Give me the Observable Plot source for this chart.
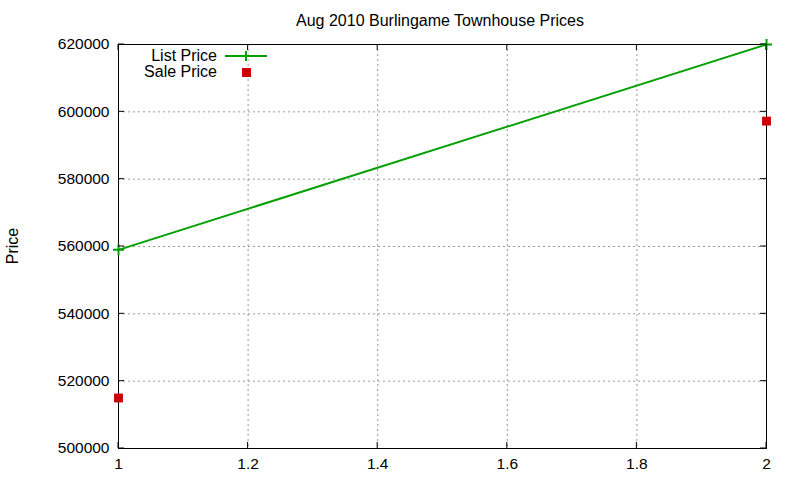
<!DOCTYPE html>
<html><head><meta charset="utf-8">
<script src="https://cdn.jsdelivr.net/npm/d3@7"></script>
<script src="https://cdn.jsdelivr.net/npm/@observablehq/plot@0.6"></script>
<style>body{margin:0;background:#fff;font-family:"Liberation Sans",Arial,sans-serif}</style>
</head><body><div id="chart"></div>
<script>
const title = "Aug 2010 Burlingame Townhouse Prices";
const yLabel = "Price";
const listX = [1, 2];
const listPrice = [559000, 620000];
const saleX = [1, 2];
const salePrice = [515000, 597250];
const xTicks = [1, 1.2, 1.4, 1.6, 1.8, 2];
const yTicks = [500000, 520000, 540000, 560000, 580000, 600000, 620000];
const seriesNames = ["List Price", "Sale Price"];

const listData = listX.map((x, i) => ({x, y: listPrice[i]}));
const saleData = saleX.map((x, i) => ({x, y: salePrice[i]}));
const green = "#00a000", red = "#cc0000";
const font = '"Liberation Sans",Arial,sans-serif';

const plusSymbol = {
  draw(context, size) {
    const r = Math.sqrt(size / Math.PI);
    context.moveTo(-r, 0); context.lineTo(r, 0);
    context.moveTo(0, -r); context.lineTo(0, r);
  }
};

const plot = Plot.plot({
  width: 800, height: 480,
  marginLeft: 118, marginRight: 34, marginTop: 44, marginBottom: 32,
  style: {fontFamily: font, fontSize: "15.5px", color: "black", background: "white"},
  x: {domain: [1, 2], ticks: xTicks},
  y: {domain: [500000, 620000], ticks: yTicks},
  marks: [
    Plot.gridX(xTicks, {stroke: "#999", strokeOpacity: 1, strokeDasharray: "2,3"}),
    Plot.gridY(yTicks, {stroke: "#999", strokeOpacity: 1, strokeDasharray: "2,3"}),
    Plot.axisX(xTicks, {tickSize: 0, tickPadding: 9, tickFormat: d => String(d), label: null, fontSize: 15.5}),
    Plot.axisY(yTicks, {tickSize: 0, tickPadding: 9, tickFormat: d => String(d), label: null, fontSize: 15.5}),
    Plot.frame({stroke: "black", strokeWidth: 1}),
    Plot.line(listData, {x: "x", y: "y", stroke: green, strokeWidth: 2}),
    Plot.dot(listData, {x: "x", y: "y", symbol: plusSymbol, stroke: green, fill: "none", strokeWidth: 2, r: 5.5}),
    Plot.dot(saleData, {x: "x", y: "y", symbol: "square", fill: red, r: 5})
  ]
});
document.getElementById("chart").appendChild(plot);

const svg = d3.select(plot);
const xs = plot.scale("x"), ys = plot.scale("y");
const [x0, x1] = xs.range, [y0, y1] = ys.range;
const tg = svg.append("g").attr("stroke", "black").attr("stroke-width", 1);
for (const t of xTicks) {
  const px = xs.apply(t);
  tg.append("line").attr("x1", px).attr("x2", px).attr("y1", y0).attr("y2", y0 - 6);
  tg.append("line").attr("x1", px).attr("x2", px).attr("y1", y1).attr("y2", y1 + 6);
}
for (const t of yTicks) {
  const py = ys.apply(t);
  tg.append("line").attr("y1", py).attr("y2", py).attr("x1", x0).attr("x2", x0 + 6);
  tg.append("line").attr("y1", py).attr("y2", py).attr("x1", x1).attr("x2", x1 - 6);
}

svg.append("text").attr("transform", `translate(18,${(y0 + y1) / 2}) rotate(-90)`).attr("text-anchor", "middle")
  .attr("font-family", font).attr("font-size", 16).attr("fill", "black").text(yLabel);
svg.append("text").attr("x", 440).attr("y", 26).attr("text-anchor", "middle")
  .attr("font-family", font).attr("font-size", 16).attr("fill", "black").text(title);
const lg = svg.append("g").attr("font-family", font).attr("font-size", 16).attr("fill", "black");
lg.append("text").attr("x", 217).attr("y", 61).attr("text-anchor", "end").text(seriesNames[0]);
lg.append("line").attr("x1", 225).attr("x2", 267).attr("y1", 56).attr("y2", 56).attr("stroke", green).attr("stroke-width", 2);
lg.append("path").attr("d", "M-5,0H5M0,-5V5").attr("transform", "translate(246,56)").attr("stroke", green).attr("stroke-width", 2);
lg.append("text").attr("x", 217).attr("y", 77).attr("text-anchor", "end").text(seriesNames[1]);
lg.append("rect").attr("x", 242).attr("y", 68).attr("width", 9).attr("height", 9).attr("fill", red);
</script></body></html>
